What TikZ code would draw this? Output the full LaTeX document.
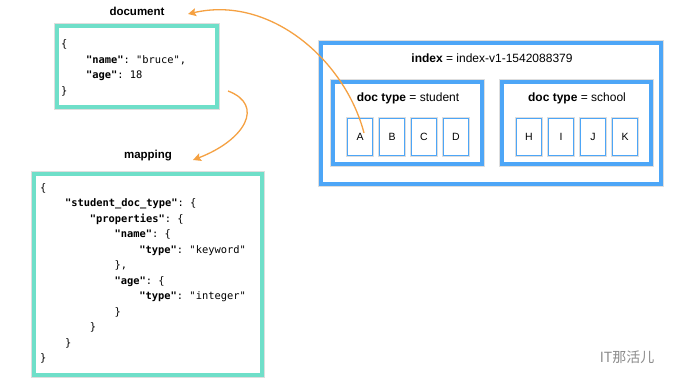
\documentclass[tikz,border=0pt]{standalone}
\usepackage{fontspec}
\setmainfont{Liberation Sans}
\setmonofont{DejaVu Sans Mono}
\newfontfamily\cjkfont{Noto Sans CJK SC}
\usetikzlibrary{arrows.meta}
\definecolor{tealb}{HTML}{6FDFC9}
\definecolor{blueb}{HTML}{4DA6F7}
\definecolor{orangea}{HTML}{F5A142}
\newcommand\ind{\hspace*{24.8pt}}
\begin{document}
\begin{tikzpicture}[x=1pt,y=-1pt,
  halo/.style={preaction={draw=black!13,line width=#1}},
  codebox/.style={draw=tealb,line width=4pt,fill=white,halo=6.5pt,inner sep=0pt},
  bigbox/.style={draw=blueb,line width=4pt,fill=white,halo=6.5pt,inner sep=0pt},
  smallbox/.style={draw=blueb,line width=1.6pt,fill=white,halo=3pt,inner sep=0pt,
    minimum width=25pt,minimum height=37pt,font=\fontsize{10.5}{12}\selectfont},
  code/.style={font=\ttfamily\fontsize{10.4}{15.5}\selectfont,align=left,inner sep=0pt,anchor=west},
  lab/.style={font=\bfseries\fontsize{11.5}{13}\selectfont,inner sep=0pt},
  title/.style={font=\fontsize{12}{14}\selectfont,inner sep=0pt},
  arr/.style={draw=orangea,line width=1.3pt,-{Stealth[length=8pt,width=8pt,inset=1.5pt]}}
]
\useasboundingbox (0,0) rectangle (679,387);
\fill[white] (0,0) rectangle (679,387);

% document
\node[lab] (doclab) at (137,11) {document};
\node[codebox,minimum width=160pt,minimum height=81pt] (docbox) at (137,66.5) {};
\node[code] (doctext) at (61,68) {\{\\
\ind\textbf{"name"}: "bruce",\\
\ind\textbf{"age"}: 18\\
\}};

% mapping
\node[lab] (maplab) at (148,156) {mapping};
\node[codebox,minimum width=228pt,minimum height=201pt] (mapbox) at (148,274.5) {};
\node[code] (maptext) at (40,273.5) {\{\\
\ind\textbf{"student\_doc\_type"}: \{\\
\ind\ind\textbf{"properties"}: \{\\
\ind\ind\ind\textbf{"name"}: \{\\
\ind\ind\ind\ind\textbf{"type"}: "keyword"\\
\ind\ind\ind\},\\
\ind\ind\ind\textbf{"age"}: \{\\
\ind\ind\ind\ind\textbf{"type"}: "integer"\\
\ind\ind\ind\}\\
\ind\ind\}\\
\ind\}\\
\}};

% index
\node[bigbox,minimum width=340pt,minimum height=141pt] (index) at (491,113.5) {};
\node[title] (indexlab) at (492,58) {\textbf{index} = index-v1-1542088379};
\node[bigbox,minimum width=149pt,minimum height=82pt] (student) at (407.5,123) {};
\node[title] (studentlab) at (408,98) {\textbf{doc type} = student};
\node[bigbox,minimum width=149pt,minimum height=82pt] (school) at (576.5,123) {};
\node[title] (schoollab) at (577,98) {\textbf{doc type} = school};

\node[smallbox] (A) at (360,137) {A};
\node[smallbox] (B) at (392,137) {B};
\node[smallbox] (C) at (424,137) {C};
\node[smallbox] (D) at (456,137) {D};
\node[smallbox] (H) at (529,137) {H};
\node[smallbox] (I) at (561,137) {I};
\node[smallbox] (J) at (593,137) {J};
\node[smallbox] (K) at (625,137) {K};

% arrows
\coordinate (aend) at (364,133);
\coordinate (doctip) at (188,14);
\coordinate (mapstart) at (228,91);
\coordinate (maptip) at (193,160);
\draw[arr] (aend) .. controls (345,60) and (270,-5) .. (doctip);
\draw[arr] (mapstart) .. controls (265,105) and (245,140) .. (maptip);

% watermark
\node[text=black!45,font=\cjkfont\fontsize{14}{16}\selectfont,inner sep=0pt] (wm) at (627,357) {IT那活儿};
\end{tikzpicture}
\end{document}
